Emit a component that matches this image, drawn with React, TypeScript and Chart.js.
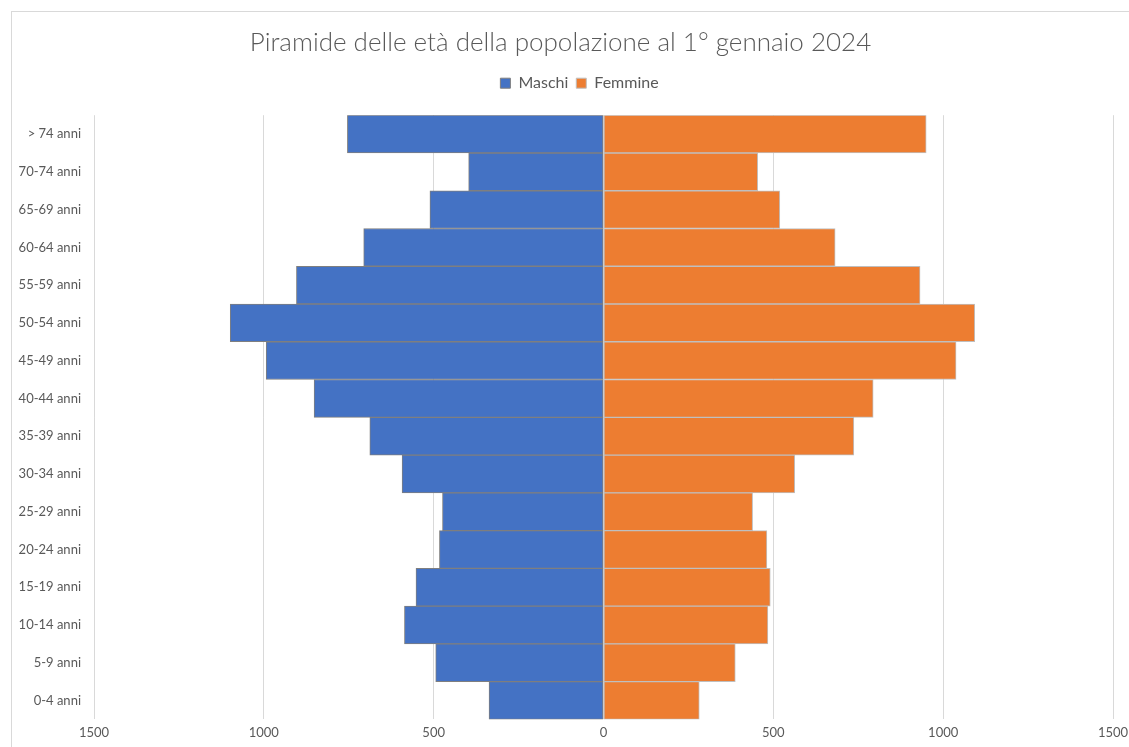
import React, { useEffect, useRef } from "react";
import { Chart, registerables } from "chart.js";

Chart.register(...registerables);

// Age classes, top row first
const ageClasses = [
  "> 74 anni",
  "70-74 anni",
  "65-69 anni",
  "60-64 anni",
  "55-59 anni",
  "50-54 anni",
  "45-49 anni",
  "40-44 anni",
  "35-39 anni",
  "30-34 anni",
  "25-29 anni",
  "20-24 anni",
  "15-19 anni",
  "10-14 anni",
  "5-9 anni",
  "0-4 anni",
];

// Residents by sex for each age class
const maschi = [754, 397, 511, 706, 904, 1099, 993, 852, 688, 593, 474, 483, 552, 586, 494, 337];
const femmine = [950, 454, 519, 682, 932, 1093, 1038, 794, 737, 563, 439, 481, 491, 484, 388, 282];

const axisMin = -1500;
const axisMax = 1500;
const axisStep = 500;

const titleText = "Piramide delle età della popolazione al 1° gennaio 2024";

const TEXT = "#595959";
const FONT = "Lato, 'Open Sans', sans-serif";

const CANVAS_W = 1135;
const CANVAS_H = 749;

// Legend row: extra room below it and a small horizontal offset
const legendPlacement = {
  id: "legendPlacement",
  beforeInit(chart: any) {
    const legend = chart.legend;
    if (!legend) return;
    const originalFit = legend.fit;
    legend.fit = function fit() {
      originalFit.call(this);
      this.height += 14;
    };
  },
  afterLayout(chart: any) {
    const legend = chart.legend;
    if (!legend) return;
    legend.left += 19;
    legend.right += 19;
  },
};

export default function App() {
  const canvasRef = useRef<HTMLCanvasElement | null>(null);

  useEffect(() => {
    const canvas = canvasRef.current;
    if (!canvas) return;
    const chart = new Chart(canvas, {
      type: "bar",
      data: {
        labels: ageClasses,
        datasets: [
          {
            label: "Maschi",
            data: maschi.map((v) => -v),
            backgroundColor: "#4472c4",
            borderColor: "#7f7f7f",
            borderWidth: 1,
            borderSkipped: false,
            barPercentage: 1,
            categoryPercentage: 1,
          },
          {
            label: "Femmine",
            data: femmine,
            backgroundColor: "#ed7d31",
            borderColor: "#bfbfbf",
            borderWidth: 1,
            borderSkipped: false,
            barPercentage: 1,
            categoryPercentage: 1,
          },
        ],
      },
      options: {
        indexAxis: "y",
        responsive: false,
        animation: false,
        devicePixelRatio: 1,
        layout: { padding: { top: 20, left: 8, right: 22, bottom: 2 } },
        plugins: {
          title: {
            display: true,
            text: titleText,
            color: TEXT,
            font: { family: FONT, size: 26, weight: "300" },
            padding: { top: 7, bottom: 9 },
          },
          legend: {
            display: true,
            position: "top",
            labels: {
              color: TEXT,
              font: { family: FONT, size: 16 },
              boxWidth: 10,
              boxHeight: 10,
              padding: 8,
            },
          },
          tooltip: { enabled: false },
        },
        scales: {
          x: {
            stacked: true,
            min: axisMin,
            max: axisMax,
            grid: { color: "#d9d9d9", drawTicks: false },
            border: { display: false },
            ticks: {
              stepSize: axisStep,
              padding: 6,
              color: TEXT,
              font: { family: FONT, size: 13 },
              callback: (v) => String(Math.abs(Number(v))),
            },
          },
          y: {
            stacked: true,
            grid: { display: false, drawTicks: false },
            border: { display: false },
            ticks: {
              padding: 13,
              color: TEXT,
              font: { family: FONT, size: 13 },
            },
            afterFit: (scale) => {
              scale.width = 86;
            },
          },
        },
      },
      plugins: [legendPlacement],
    });
    return () => chart.destroy();
  }, []);

  return (
    <div
      style={{
        position: "absolute",
        left: 0,
        top: 0,
        width: 1129,
        height: 747,
        overflow: "hidden",
        background: "#ffffff",
      }}
    >
      <div
        style={{
          position: "absolute",
          left: 11,
          top: 11,
          width: 1300,
          height: 900,
          borderLeft: "1px solid #d9d9d9",
          borderTop: "1px solid #d9d9d9",
        }}
      />
      <canvas
        ref={canvasRef}
        width={CANVAS_W}
        height={CANVAS_H}
        style={{ position: "absolute", left: 0, top: 0, width: CANVAS_W, height: CANVAS_H }}
      />
    </div>
  );
}
